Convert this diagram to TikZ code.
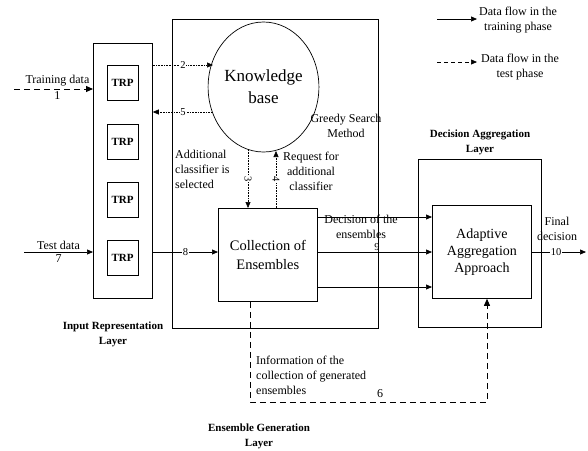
\documentclass[tikz,border=0pt]{standalone}
\usepackage{fontspec}
\setmainfont{Liberation Serif}
\usetikzlibrary{arrows.meta,shapes.geometric}
\begin{document}
\begin{tikzpicture}[x=1pt,y=-1pt,
  box/.style={draw,line width=0.8pt,inner sep=0pt,anchor=north west},
  trp/.style={draw,line width=0.7pt,minimum width=31pt,minimum height=35pt,inner sep=0pt,font=\fontsize{11}{12}\selectfont\bfseries},
  arr/.style={line width=0.7pt,-{Triangle[length=6pt,width=5pt]}},
  dotarr/.style={line width=0.6pt,densely dotted,-{Triangle[length=6pt,width=5pt]}},
  dasharr/.style={line width=0.9pt,dash pattern=on 6pt off 4pt,-{Triangle[length=7pt,width=6pt]}},
  txt/.style={font=\fontsize{12}{15}\selectfont,align=center,inner sep=1pt},
  num/.style={font=\fontsize{10.5}{11}\selectfont,fill=white,inner sep=0.5pt},
  layer/.style={font=\fontsize{11}{15}\selectfont\bfseries,align=center}
]
\useasboundingbox (0,0) rectangle (588,450);
% boxes
\node[box,minimum width=59pt,minimum height=255pt] (inp) at (93,43) {};
\node[box,minimum width=206pt,minimum height=309pt] (ens) at (172,19) {};
\node[box,minimum width=123pt,minimum height=168pt] (dal) at (418,159) {};
% TRP
\node[trp] (t1) at (122.5,82.5) {TRP};
\node[trp] (t2) at (122.5,141.5) {TRP};
\node[trp] (t3) at (122.5,199.5) {TRP};
\node[trp] (t4) at (122.5,258) {TRP};
% knowledge base
\node[draw,ellipse,fill=white,line width=0.7pt,minimum width=107pt,minimum height=130pt,inner sep=0pt,
  font=\fontsize{17}{22}\selectfont,align=center] (kb) at (263.5,87) {Knowledge\\base};
% collection
\node[box,minimum width=99pt,minimum height=93pt] (col) at (218,208) {};
\node[font=\fontsize{14.5}{19}\selectfont,align=center] at (col.center) {Collection of\\Ensembles};
% adaptive
\node[box,minimum width=99pt,minimum height=93pt] (ada) at (432,205) {};
\node[font=\fontsize{14}{17}\selectfont,align=center] at (ada.center) {Adaptive\\Aggregation\\Approach};
% inputs
\coordinate (trs) at (14,89);
\coordinate (tes) at (24,252);
\draw[dasharr] (trs) -- (trs -| inp.west) node[pos=0.55,above,txt,yshift=1pt] {Training data} node[pos=0.55,below,txt,yshift=-1pt] {1};
\draw[arr] (tes) -- (tes -| inp.west) node[pos=0.5,above,txt,yshift=1pt] {Test data} node[pos=0.5,below,txt,yshift=-1pt] {7};
% dotted flows
\coordinate (k2) at (213,65);
\coordinate (k5) at (213,112);
\draw[dotarr] (k2 -| inp.east) -- (k2) node[pos=0.5,num] {2};
\draw[dotarr] (k5) -- (k5 -| inp.east) node[pos=0.5,num] {5};
\coordinate (k3) at (248,150);
\coordinate (k4) at (276,151);
\draw[dotarr] (k3) -- (k3 |- col.north) node[pos=0.5,num,rotate=-90] {3};
\draw[dotarr] (k4 |- col.north) -- (k4) node[pos=0.5,num,rotate=-90] {4};
\node[txt,align=left,anchor=north west] at (174,149) {Additional\\classifier is\\selected};
\node[txt,anchor=north] at (311,151) {Request for\\additional\\classifier};
\node[txt] at (346,126) {Greedy Search\\Method};
% 8
\draw[arr] (tes -| inp.east) -- (tes -| col.west) node[pos=0.5,num] {8};
% decision arrows
\coordinate (d1) at (317,217);
\coordinate (d3) at (317,287);
\draw[arr] (d1) -- (d1 -| ada.west);
\draw[arr] (tes -| col.east) -- (tes -| ada.west);
\draw[arr] (d3) -- (d3 -| ada.west);
\node[txt] at (361,227) {Decision of the\\ensembles};
\node[font=\fontsize{10.5}{11}\selectfont,inner sep=0pt] at (377,247.5) {9};
% final
\coordinate (fin) at (586,252);
\draw[arr] (tes -| ada.east) -- (fin) node[pos=0.45,num] {10};
\node[txt] at (557,229) {Final\\decision};
% dashed 6
\coordinate (c6) at (250,402);
\coordinate (a6) at (487,402);
\draw[dasharr] (c6 |- col.south) -- (c6) -- (a6) -- (a6 |- ada.south) ;
\node[txt,align=left,anchor=north west] at (255,355) {Information of the\\collection of generated\\ensembles};
\node[font=\fontsize{12}{13}\selectfont] at (380,394) {6};
% layer labels
\node[layer] at (113,334) {Input Representation\\Layer};
\node[layer] at (259,436) {Ensemble Generation\\Layer};
\node[layer] at (480,142) {Decision Aggregation\\Layer};
% legend
\coordinate (l1) at (437,19);
\coordinate (l1e) at (477,19);
\coordinate (l2) at (437,62);
\coordinate (l2e) at (477,62);
\draw[arr] (l1) -- (l1e);
\draw[line width=0.7pt,dash pattern=on 4pt off 3pt,-{Triangle[length=6pt,width=5pt]}] (l2) -- (l2e);
\node[txt,anchor=west] at (478,20) {Data flow in the\\training phase};
\node[txt,anchor=west] at (480,67) {Data flow in the\\test phase};
\end{tikzpicture}
\end{document}
